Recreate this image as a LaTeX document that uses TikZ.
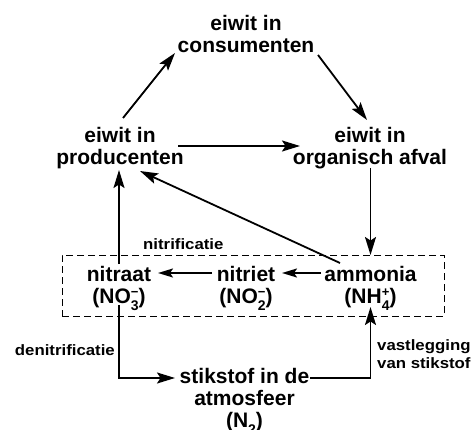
\documentclass[tikz,border=0pt]{standalone}
\usepackage{fontspec}
\setmainfont{Liberation Sans}
\newfontfamily\labelfont{Liberation Sans Bold}[FakeStretch=1.12]
\usetikzlibrary{arrows.meta}
\newcommand{\chemss}[2]{\rlap{\raisebox{7pt}{\fontsize{13}{13}\selectfont#2}}\raisebox{-7pt}{\fontsize{14}{14}\selectfont#1}}
\newcommand{\chemsub}[1]{\raisebox{-7pt}{\fontsize{14}{14}\selectfont#1}}
\begin{document}
\begin{tikzpicture}[x=1pt,y=-1pt,
  lbl/.style={inner sep=0pt, align=center, font=\fontsize{21}{22}\selectfont\bfseries},
  small/.style={inner sep=0pt, font=\labelfont\fontsize{15}{18}\selectfont},
  arr/.style={line width=1.8pt, -{Stealth[length=18pt,width=11pt,inset=3.5pt]}},
  sarr/.style={line width=1.8pt, -{Stealth[length=15pt,width=9pt,inset=3pt]}},
  zone/.style={draw, dash pattern=on 7pt off 4pt, line width=1pt, inner sep=0pt}]
\useasboundingbox (0,0) rectangle (473,430);
% dashed region
\node[zone, minimum width=382pt, minimum height=61pt] (zonebox) at (253,285.5) {};
% main nodes
\node[lbl] (cons) at (246,33.5) {eiwit in\\consumenten};
\node[lbl] (prod) at (120,148) {eiwit in\\producenten};
\node[lbl] (afval) at (370,148) {eiwit in\\organisch afval};
\node[lbl] (nitraat) at (119,288) {nitraat\\(NO\chemss{3}{−})};
\node[lbl] (nitriet) at (246,288) {nitriet\\(NO\chemss{2}{−})};
\node[lbl] (amm) at (370.5,288) {ammonia\\(NH\chemss{4}{+})};
\node[lbl] (stik) at (244.5,401) {stikstof in de\\atmosfeer\\(N\chemsub{2})};
% small labels
\node[small, anchor=base west] (nitrif) at (143,249) {nitrificatie};
\node[small, anchor=base east] (denitrif) at (115,355) {denitrificatie};
\node[small, anchor=north west, align=left] (vast) at (377,339) {vastlegging\\van stikstof};
% connectors
\draw[arr] ([shift={(3,-30)}]prod.center) -- ([shift={(-71,19.5)}]cons.center);
\draw[arr] ([shift={(72,21.5)}]cons.center) -- ([shift={(-3,-28)}]afval.center);
\draw[arr] ([shift={(58,-2)}]prod.center) -- ([shift={(-70,-2)}]afval.center);
\draw[arr] ([shift={(0.5,20)}]afval.center) -- ([shift={(0,-33)}]amm.center);
\draw[arr] ([shift={(-30.5,-25)}]amm.center) -- ([shift={(20,23)}]prod.center);
\draw[arr] ([shift={(0,-24)}]nitraat.center) -- ([shift={(-1,22)}]prod.center);
\draw[sarr] ([shift={(-34,-15)}]nitriet.center) -- ([shift={(39,-15)}]nitraat.center);
\draw[sarr] ([shift={(-49.5,-15)}]amm.center) -- ([shift={(36,-15)}]nitriet.center);
\draw[arr] ([shift={(0,17)}]nitraat.center) |- ([shift={(-69.5,-23)}]stik.center);
\draw[arr] ([shift={(65.5,-23)}]stik.center) -| ([shift={(0,19)}]amm.center);
\end{tikzpicture}
\end{document}
